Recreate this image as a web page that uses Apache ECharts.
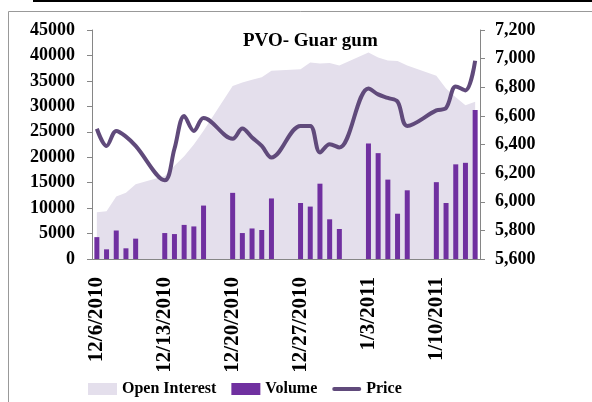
<!DOCTYPE html>
<html>

<head>
	<meta charset="utf-8">
	<title>PVO- Guar gum</title>
	<script src="https://cdn.jsdelivr.net/npm/echarts@6.0.0/dist/echarts.min.js"></script>
	<style>
		html, body { margin: 0; padding: 0; background: #fff; }
		#chart { width: 592px; height: 402px; }
	</style>
</head>

<body>
	<div id="chart"></div>
	<script>
		// daily calendar from 12/6/2010 to 1/14/2011, weekends left empty
		var dates = [
			'12/6/2010', '12/7/2010', '12/8/2010', '12/9/2010', '12/10/2010', '12/11/2010', '12/12/2010',
			'12/13/2010', '12/14/2010', '12/15/2010', '12/16/2010', '12/17/2010', '12/18/2010', '12/19/2010',
			'12/20/2010', '12/21/2010', '12/22/2010', '12/23/2010', '12/24/2010', '12/25/2010', '12/26/2010',
			'12/27/2010', '12/28/2010', '12/29/2010', '12/30/2010', '12/31/2010', '1/1/2011', '1/2/2011',
			'1/3/2011', '1/4/2011', '1/5/2011', '1/6/2011', '1/7/2011', '1/8/2011', '1/9/2011',
			'1/10/2011', '1/11/2011', '1/12/2011', '1/13/2011', '1/14/2011'
		];
		var openInterest = [
			9200, 9400, 12300, 13000, 14700, null, null,
			16300, 18300, 20200, 22500, 25200, null, null,
			34000, 34700, 35200, 35700, 37000, null, null,
			37300, 38600, 38400, 38500, 38000, null, null,
			40600, 39600, 39000, 38900, 38000, null, null,
			36000, 33500, 31800, 30200, 30900
		];
		var volume = [
			4300, 1900, 5600, 2100, 4000, null, null,
			5100, 4900, 6700, 6400, 10500, null, null,
			13000, 5100, 6000, 5700, 11900, null, null,
			11000, 10300, 14800, 7800, 5900, null, null,
			22700, 20800, 15600, 8900, 13500, null, null,
			15100, 11000, 18600, 18900, 29300
		];
		var price = [
			6510, 6390, 6495, 6455, 6390, null, null,
			6150, 6370, 6600, 6495, 6585, null, null,
			6440, 6512, 6449, 6390, 6309, null, null,
			6530, 6530, 6344, 6402, 6379, null, null,
			6792, 6750, 6725, 6700, 6530, null, null,
			6638, 6655, 6806, 6778, 6985
		];

		var serif = 'Liberation Serif';
		var axisGray = '#868686';

		var chart = echarts.init(document.getElementById('chart'));
		chart.setOption({
			animation: false,
			title: {
				text: 'PVO- Guar gum',
				left: 238,
				top: 27,
				textStyle: { fontFamily: serif, fontWeight: 'bold', fontSize: 19, color: '#000' }
			},
			legend: {
				left: 88,
				top: 381,
				padding: 0,
				itemWidth: 29,
				itemHeight: 12,
				itemGap: 15,
				textStyle: { fontFamily: serif, fontWeight: 'bold', fontSize: 16, color: '#000' },
				data: [
					{ name: 'Open Interest', icon: 'rect' },
					{ name: 'Volume', icon: 'rect' },
					{ name: 'Price', icon: 'path://M2,0 H28 A2,2 0 0 1 28,4 H2 A2,2 0 0 1 2,0 Z' }
				]
			},
			grid: { left: 92, right: 112, top: 30, bottom: 143 },
			xAxis: {
				type: 'category',
				data: dates,
				boundaryGap: true,
				axisLine: { lineStyle: { color: axisGray, width: 1 } },
				axisTick: { interval: 6, length: 5, lineStyle: { color: axisGray } },
				axisLabel: {
					interval: 6,
					rotate: 90,
					margin: 18,
					fontFamily: serif,
					fontWeight: 'bold',
					fontSize: 21,
					color: '#000'
				}
			},
			yAxis: [
				{
					type: 'value',
					min: 0,
					max: 45000,
					interval: 5000,
					splitLine: { show: false },
					axisLine: { show: true, lineStyle: { color: axisGray } },
					axisTick: { show: true, length: 5, lineStyle: { color: axisGray } },
					axisLabel: {
						margin: 17,
						fontFamily: serif,
						fontWeight: 'bold',
						fontSize: 18,
						color: '#000',
						formatter: function (v) { return String(v); }
					}
				},
				{
					type: 'value',
					position: 'right',
					min: 5600,
					max: 7200,
					interval: 200,
					splitLine: { show: false },
					axisLine: { show: true, lineStyle: { color: axisGray } },
					axisTick: { show: true, length: 5, lineStyle: { color: axisGray } },
					axisLabel: {
						margin: 15,
						fontFamily: serif,
						fontWeight: 'bold',
						fontSize: 18,
						color: '#000',
						formatter: function (v) { return v.toLocaleString('en-US'); }
					}
				}
			],
			series: [
				{
					name: 'Open Interest',
					type: 'line',
					data: openInterest,
					connectNulls: true,
					showSymbol: false,
					color: '#E4DFEC',
					lineStyle: { width: 0 },
					areaStyle: { color: '#E4DFEC', opacity: 1 },
					z: 1
				},
				{
					name: 'Volume',
					type: 'bar',
					data: volume,
					barWidth: 5,
					color: '#7030A0',
					z: 2
				},
				{
					name: 'Price',
					type: 'line',
					yAxisIndex: 1,
					data: price,
					connectNulls: true,
					smooth: 0.35,
					showSymbol: false,
					color: '#604A7B',
					lineStyle: { width: 4, color: '#604A7B' },
					z: 3
				}
			],
			graphic: [
				{ type: 'line', shape: { x1: 33, y1: 1, x2: 592, y2: 1 }, style: { stroke: '#000', lineWidth: 2 } },
				{ type: 'line', shape: { x1: 8.5, y1: 11.5, x2: 592, y2: 11.5 }, style: { stroke: '#999', lineWidth: 1 } },
				{ type: 'line', shape: { x1: 8.5, y1: 11.5, x2: 8.5, y2: 402 }, style: { stroke: '#999', lineWidth: 1 } }
			]
		});
	</script>
</body>

</html>
